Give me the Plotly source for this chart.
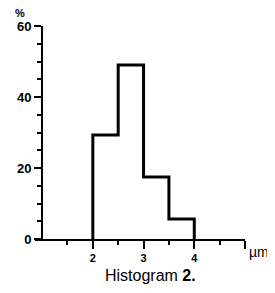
import plotly.graph_objects as go

# Data
bin_edges = [2.0, 2.5, 3.0, 3.5, 4.0]
percent = [29.3, 49.0, 17.5, 5.6]
x_major = [2, 3, 4, 5]
x_major_text = ["2", "3", "4", ""]
x_minor = [1.5, 2.5, 3.5, 4.5]
y_major = [0, 20, 40, 60]
y_minor = [5, 10, 15, 25, 30, 35, 45, 50, 55]

# stepped outline from the bins
xs = [bin_edges[0]]
ys = [0]
for i, v in enumerate(percent):
    xs += [bin_edges[i], bin_edges[i + 1]]
    ys += [v, v]
xs.append(bin_edges[-1])
ys.append(0)

OFF = 8  # page body margin
x_lo, x_hi = 0.86, 5.0
W, H = 275 - OFF, 293 - OFF
L, T = 35 - OFF, 26 - OFF
R = W - (245 - OFF)
B = H - (239 - OFF)
fig = go.Figure()
fig.add_trace(go.Scatter(x=xs, y=ys, mode="lines",
                         line=dict(color="black", width=3), showlegend=False,
                         cliponaxis=False))

pw = W - L - R
ph = H - T - B
def px(xp):
    return (xp - OFF - L) / pw
def py(yp):
    return (H - B - (yp - OFF)) / ph

fnt = "Liberation Sans"
fig.update_layout(
    width=W, height=H,
    margin=dict(l=L, r=R, t=T, b=B, autoexpand=False),
    paper_bgcolor="white", plot_bgcolor="white",
    font=dict(family=fnt, color="black"),
    xaxis=dict(range=[x_lo, x_hi], showgrid=False, zeroline=False,
               automargin=False,
               showline=True, linecolor="black", linewidth=2,
               tickvals=x_major, ticktext=x_major_text, ticks="outside",
               ticklen=8, tickwidth=2, tickcolor="black",
               tickfont=dict(size=11, weight="bold"),
               minor=dict(tickvals=x_minor, ticks="outside", ticklen=4,
                          tickwidth=1.5, tickcolor="black")),
    yaxis=dict(range=[0, 60], showgrid=False, zeroline=False,
               automargin=False,
               showline=True, linecolor="black", linewidth=2,
               anchor="free", position=(1 - x_lo) / (x_hi - x_lo),
               tickvals=y_major, ticks="outside", ticklen=7, tickwidth=2,
               tickcolor="black", tickfont=dict(size=13, weight="bold"),
               minor=dict(tickvals=y_minor, ticks="outside", ticklen=4,
                          tickwidth=1.5, tickcolor="black")),
    annotations=[
        dict(text="%", x=px(20), y=py(13), xref="paper", yref="paper",
             showarrow=False, xanchor="center", yanchor="middle",
             font=dict(size=11, weight="bold")),
        dict(text="µm", x=px(247), y=py(252), xref="paper", yref="paper",
             showarrow=False, xanchor="left", yanchor="middle",
             font=dict(size=14)),
        dict(text="Histogram <b>2.</b>", x=px(150), y=py(275), xref="paper",
             yref="paper", showarrow=False, xanchor="center",
             yanchor="middle", font=dict(size=16)),
    ],
)
fig.write_html("out.html")
